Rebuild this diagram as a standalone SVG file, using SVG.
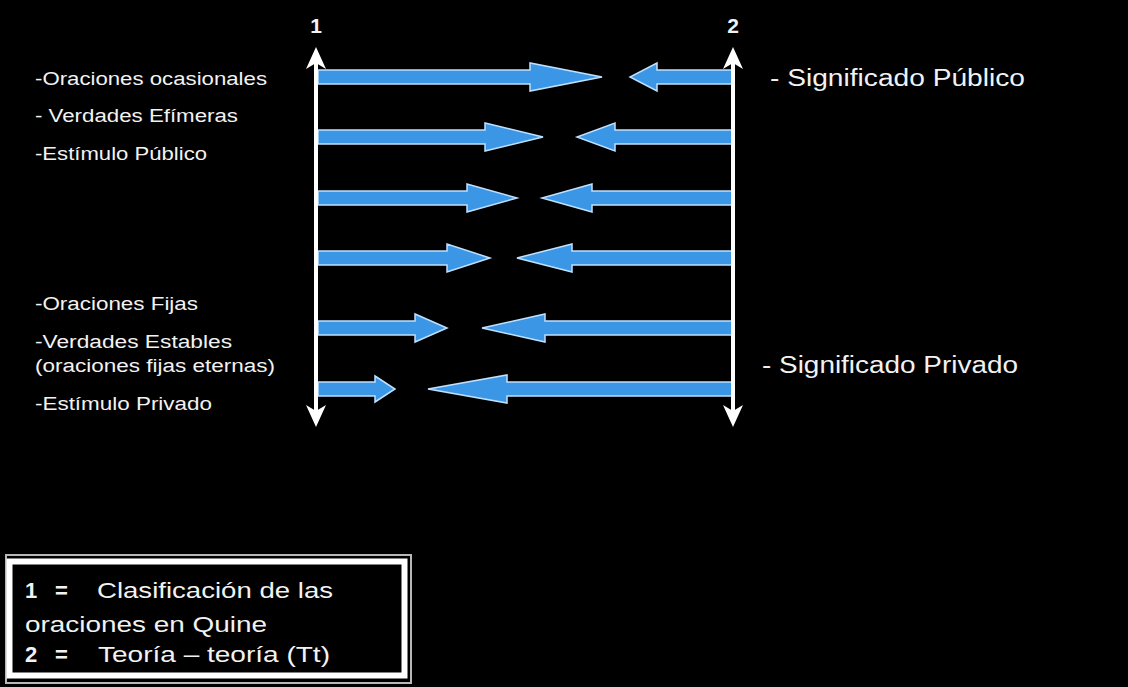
<svg xmlns="http://www.w3.org/2000/svg" width="1128" height="687" viewBox="0 0 1128 687">
<style>
.t{font-family:"Liberation Sans",Arial,sans-serif;fill:#f2f2f2;}
.s{font-size:18px;}
.m{font-size:23px;}
.l{font-size:22px;}
.b{font-weight:bold;}
.arr{fill:#3b97e6;stroke:#bfe0ff;stroke-width:1.5;stroke-linejoin:miter;}
.ax{stroke:#ffffff;stroke-width:4;fill:none;}
.ah{fill:#ffffff;}
</style>
<rect x="0" y="0" width="1128" height="687" fill="#000000"/>

<g id="connectors">
  <polygon class="arr" points="318,70 530,70 530,63 602,77 530,91 530,84 318,84"/>
  <polygon class="arr" points="732,70 657,70 657,63 630,77 657,91 657,84 732,84"/>
  <polygon class="arr" points="318,130 485,130 485,123 543,137 485,151 485,144 318,144"/>
  <polygon class="arr" points="732,130 615,130 615,123 577,137 615,151 615,144 732,144"/>
  <polygon class="arr" points="318,191 467,191 467,184 517,198 467,212 467,205 318,205"/>
  <polygon class="arr" points="732,191 592,191 592,184 542,198 592,212 592,205 732,205"/>
  <polygon class="arr" points="318,251 447,251 447,244 490,258 447,272 447,265 318,265"/>
  <polygon class="arr" points="732,251 572,251 572,244 517,258 572,272 572,265 732,265"/>
  <polygon class="arr" points="318,321 415,321 415,314 447,328 415,342 415,335 318,335"/>
  <polygon class="arr" points="732,321 545,321 545,314 482,328 545,342 545,335 732,335"/>
  <polygon class="arr" points="318,382 375,382 375,376 395,389 375,402 375,396 318,396"/>
  <polygon class="arr" points="732,382 507,382 507,375 428,389 507,403 507,396 732,396"/>
</g>

<g id="axis1">
  <line class="ax" x1="316" y1="60" x2="316" y2="414"/>
  <path class="ah" d="M316,47 L306,69 L316,63 L326,69 Z"/>
  <path class="ah" d="M316,427 L306,405 L316,411 L326,405 Z"/>
  <text class="t b" x="316" y="33" font-size="21" text-anchor="middle">1</text>
</g>

<g id="axis2">
  <line class="ax" x1="733" y1="60" x2="733" y2="414"/>
  <path class="ah" d="M733,47 L723,69 L733,63 L743,69 Z"/>
  <path class="ah" d="M733,427 L723,405 L733,411 L743,405 Z"/>
  <text class="t b" x="733" y="33" font-size="21" text-anchor="middle">2</text>
</g>

<g id="labels-left">
  <text class="t s" x="35" y="85" textLength="232" lengthAdjust="spacingAndGlyphs">-Oraciones ocasionales</text>
  <text class="t s" x="35" y="122" textLength="203" lengthAdjust="spacingAndGlyphs">- Verdades Efímeras</text>
  <text class="t s" x="35" y="160" textLength="172" lengthAdjust="spacingAndGlyphs">-Estímulo Público</text>
  <text class="t s" x="35" y="310" textLength="163" lengthAdjust="spacingAndGlyphs">-Oraciones Fijas</text>
  <text class="t s" x="35" y="348" textLength="197" lengthAdjust="spacingAndGlyphs">-Verdades Estables</text>
  <text class="t s" x="35" y="372" textLength="240" lengthAdjust="spacingAndGlyphs">(oraciones fijas eternas)</text>
  <text class="t s" x="35" y="410" textLength="177" lengthAdjust="spacingAndGlyphs">-Estímulo Privado</text>
</g>

<g id="labels-right">
  <text class="t m" x="770" y="86" textLength="255" lengthAdjust="spacingAndGlyphs">- Significado Público</text>
  <text class="t m" x="762" y="373" textLength="256" lengthAdjust="spacingAndGlyphs">- Significado Privado</text>
</g>

<g id="legend">
  <rect x="6" y="555" width="405" height="128" fill="none" stroke="#b8b8b8" stroke-width="2"/>
  <rect x="9.5" y="561.5" width="395" height="114" fill="#000000" stroke="#ffffff" stroke-width="6"/>
  <text class="t l b" x="25" y="598">1</text>
  <text class="t l b" x="55" y="598">=</text>
  <text class="t l" x="97" y="598" textLength="236" lengthAdjust="spacingAndGlyphs">Clasificación de las</text>
  <text class="t l" x="25" y="632" textLength="242" lengthAdjust="spacingAndGlyphs">oraciones en Quine</text>
  <text class="t l b" x="25" y="662">2</text>
  <text class="t l b" x="55" y="662">=</text>
  <text class="t l" x="98" y="662" textLength="232" lengthAdjust="spacingAndGlyphs">Teoría – teoría (Tt)</text>
</g>
</svg>
